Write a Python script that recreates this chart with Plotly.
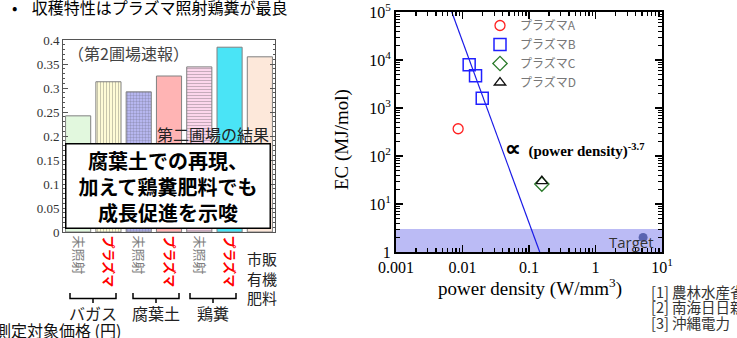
import numpy as np
import plotly.graph_objects as go

W, H = 737, 338
def px(x): return x / W
def py(y): return 1 - y / H

JP = "Noto Sans CJK JP"
SERIF = "Liberation Serif"

# ---------------- left chart data ----------------
bar_labels = ["未照射", "プラズマ", "未照射", "プラズマ", "未照射", "プラズマ", "市販有機肥料"]
bar_values = [0.242, 0.313, 0.292, 0.325, 0.344, 0.385, 0.365]
bar_colors = ["#e2f8de", "#fefbd6", "#b6b6ef", "#ffb4b4", "#fcd6ec", "#4ae4f6", "#fde8da"]
group_labels = ["バガス", "腐葉土", "鶏糞"]
y_ticks_left = [0, 0.05, 0.1, 0.15, 0.2, 0.25, 0.3, 0.35, 0.4]
y_ticktext_left = ["0", "0.05", "0.1", "0.15", "0.2", "0.25", "0.3", "0.35", "0.4"]

# ---------------- right chart data ----------------
pd_A = [0.0086]; ec_A = [370]
pd_B = [0.0126, 0.0157, 0.0198]; ec_B = [8000, 4700, 1600]
pd_C = [0.156]; ec_C = [26]
pd_D = [0.156]; ec_D = [30]
fit_pd = [0.0069, 0.145]; fit_ec = [1e5, 1]
target_pd = [5.2]; target_ec = [2.0]
target_band = [1, 3]
x_ticks_right = [0.001, 0.01, 0.1, 1, 10]
x_ticktext_right = ["0.001", "0.01", "0.1", "1", "10<sup>1</sup>"]
y_ticks_right = [1, 10, 100, 1000, 1e4, 1e5]
y_ticktext_right = ["1", "10<sup>1</sup>", "10<sup>2</sup>", "10<sup>3</sup>", "10<sup>4</sup>", "10<sup>5</sup>"]
y_range_right = [0, 5]
references = ["[1] 農林水産省", "[2] 南海日日新聞", "[3] 沖縄電力"]

fig = go.Figure()

# bars
xcat = list(range(len(bar_values)))
fig.add_trace(go.Bar(
    x=xcat, y=bar_values, xaxis="x", yaxis="y",
    marker=dict(color=bar_colors, line=dict(color="#808080", width=1),
                pattern=dict(shape=["", "|", "+", "", "-", "", ""],
                             fgcolor=["#fff", "#f2eec0", "#9c9ce6", "#fff", "#f6bfe2", "#fff", "#fff"],
                             size=3, solidity=0.2)),
    showlegend=False, hoverinfo="skip"))

def tick_html(lbl):
    if lbl == "プラズマ":
        return "<b><span style='color:#ff0000'>プラズマ</span></b>"
    if lbl == "未照射":
        return "<span style='color:#808080'>未照射</span>"
    return ""

fig.update_layout(
    xaxis=dict(domain=[px(63), px(275)], range=[-0.5, 6.5], anchor="y", automargin=False,
               tickmode="array", tickvals=xcat, ticktext=[tick_html(l) for l in bar_labels],
               tickangle=90, ticks="", showline=True, linecolor="#555", linewidth=1,
               mirror=True, showgrid=False, zeroline=False,
               tickfont=dict(family=JP, size=13)),
    yaxis=dict(domain=[py(232), py(40)], range=[0, 0.4], anchor="x", automargin=False,
               tickmode="array", tickvals=y_ticks_left, ticktext=y_ticktext_left,
               ticks="inside", ticklen=5, tickcolor="#555", showline=True, linecolor="#555",
               linewidth=1, mirror="allticks", showgrid=False, zeroline=False,
               minor=dict(dtick=0.01, ticks="inside", ticklen=2, tickcolor="#555", showgrid=False),
               tickfont=dict(family=SERIF, size=13, color="#333")),
    bargap=0.17,
)

# right chart traces
fig.add_trace(go.Scatter(x=fit_pd, y=fit_ec, mode="lines", xaxis="x2", yaxis="y2",
                         line=dict(color="#1a1ae6", width=1.2), showlegend=False, hoverinfo="skip"))
fig.add_trace(go.Scatter(x=pd_A, y=ec_A, mode="markers", xaxis="x2", yaxis="y2", name="プラズマA",
                         marker=dict(symbol="circle-open", color="#ff2020", size=10, line=dict(width=1.3))))
fig.add_trace(go.Scatter(x=pd_B, y=ec_B, mode="markers", xaxis="x2", yaxis="y2", name="プラズマB",
                         marker=dict(symbol="square-open", color="#2020ff", size=12, line=dict(width=1.5))))
fig.add_trace(go.Scatter(x=pd_C, y=ec_C, mode="markers", xaxis="x2", yaxis="y2", name="プラズマC",
                         marker=dict(symbol="diamond-open", color="#2a7a2a", size=11, line=dict(width=1.3))))
fig.add_trace(go.Scatter(x=pd_D, y=ec_D, mode="markers", xaxis="x2", yaxis="y2", name="プラズマD",
                         marker=dict(symbol="triangle-up-open", color="#111", size=10, line=dict(width=1.3))))
fig.add_trace(go.Scatter(x=target_pd, y=target_ec, mode="markers", xaxis="x2", yaxis="y2",
                         marker=dict(symbol="circle", color="#5a64b0", size=9), showlegend=False,
                         hoverinfo="skip"))

minor_x = [m * 10.0 ** e for e in range(-3, 1) for m in range(2, 10)]
minor_y = [m * 10.0 ** e for e in range(0, 5) for m in range(2, 10)]

fig.update_layout(
    xaxis2=dict(type="log", domain=[px(396), px(662)], range=[-3, 1], anchor="y2", automargin=False,
                tickmode="array", tickvals=x_ticks_right, ticktext=x_ticktext_right,
                ticks="inside", ticklen=7, tickwidth=1.2, tickcolor="#000",
                showline=True, linecolor="#000", linewidth=2, mirror="allticks",
                showgrid=False, zeroline=False,
                minor=dict(tickmode="array", tickvals=minor_x, ticks="inside", ticklen=4,
                           tickcolor="#000", showgrid=False),
                tickfont=dict(family=SERIF, size=16, color="#000")),
    yaxis2=dict(type="log", domain=[py(252), py(12)], range=y_range_right, anchor="x2", automargin=False,
                tickmode="array", tickvals=y_ticks_right, ticktext=y_ticktext_right,
                ticks="inside", ticklen=7, tickwidth=1.2, tickcolor="#000",
                showline=True, linecolor="#000", linewidth=2, mirror="allticks",
                showgrid=False, zeroline=False,
                minor=dict(tickmode="array", tickvals=minor_y, ticks="inside", ticklen=4,
                           tickcolor="#000", showgrid=False),
                tickfont=dict(family=SERIF, size=16, color="#000")),
    legend=dict(x=px(480), y=py(11), xanchor="left", yanchor="top",
                font=dict(family=JP, size=12, color="#777"), bgcolor="rgba(0,0,0,0)",
                itemwidth=30),
)

# target band (in y2 domain fractions derived from the log range)
span = y_range_right[1] - y_range_right[0]
fig.add_shape(type="rect", xref="x2 domain", yref="y2 domain", x0=0, x1=1,
              y0=(np.log10(target_band[0]) - y_range_right[0]) / span,
              y1=(np.log10(target_band[1]) - y_range_right[0]) / span,
              fillcolor="#bbbbf5", line=dict(width=0), layer="below")

# brackets
bracket_spans = [(70, 116), (133, 179), (190, 236)]
for (a, b) in bracket_spans:
    m = (a + b) / 2
    path = (f"M {px(a)},{py(293)} L {px(a)},{py(298.5)} L {px(b)},{py(298.5)} L {px(b)},{py(293)} "
            f"M {px(m)},{py(298.5)} L {px(m)},{py(303)}")
    fig.add_shape(type="path", xref="paper", yref="paper", path=path,
                  line=dict(color="#000", width=1.5))

ann = []
def A(text, x, y, size, family=JP, color="#000", xanchor="center", yanchor="middle", **kw):
    ann.append(dict(text=text, x=px(x), y=py(y), xref="paper", yref="paper", showarrow=False,
                    font=dict(family=family, size=size, color=color), xanchor=xanchor,
                    yanchor=yanchor, **kw))

A("•    収穫特性はプラズマ照射鶏糞が最良", 10, 7, 16, xanchor="left")
A("（第2圃場速報）", 66, 53, 16, color="#444", xanchor="left")
A("第二圃場の結果", 271, 134, 16, color="#222", xanchor="right")
ann.append(dict(text="<b>腐葉土での再現、<br>加えて鶏糞肥料でも<br>成長促進を示唆</b>",
                x=px(168), y=py(186), xref="paper", yref="paper", showarrow=False,
                font=dict(family=JP, size=20, color="#000"), bgcolor="#fff",
                bordercolor="#000", borderwidth=1.5, borderpad=0, width=203, height=83,
                align="center", xanchor="center", yanchor="middle"))
A("市販<br>有機<br>肥料", 262, 278, 15, color="#222")
for lbl, (a, b) in zip(group_labels, bracket_spans):
    A(lbl, (a + b) / 2, 313, 16, color="#222")
A("測定対象価格 (円)", -7, 330, 16, color="#111", xanchor="left")

# right chart annotations
A("EC (MJ/mol)", 342, 140, 19, family=SERIF, textangle=-90)
A("power density (W/mm<sup>3</sup>)", 530, 287, 19, family=SERIF)
A("<b><span style='font-size:22px'>∝</span>  (power density)<sup>-3.7</sup></b>", 503, 148, 15,
  family=SERIF, xanchor="left")
A("Target", 656, 242, 15, family="Open Sans", color="#333", xanchor="right")
for i, r in enumerate(references):
    A(r, 649, 291 + i * 15.5, 14.5, color="#333", xanchor="left")

fig.update_layout(annotations=ann, width=W, height=H, autosize=False,
                  margin=dict(l=0, r=0, t=0, b=0), paper_bgcolor="#fff", plot_bgcolor="#fff")

fig.write_html("out.html", config=dict(displayModeBar=False, staticPlot=True),
               post_script="document.body.style.margin='0';document.body.style.overflow='hidden';")
